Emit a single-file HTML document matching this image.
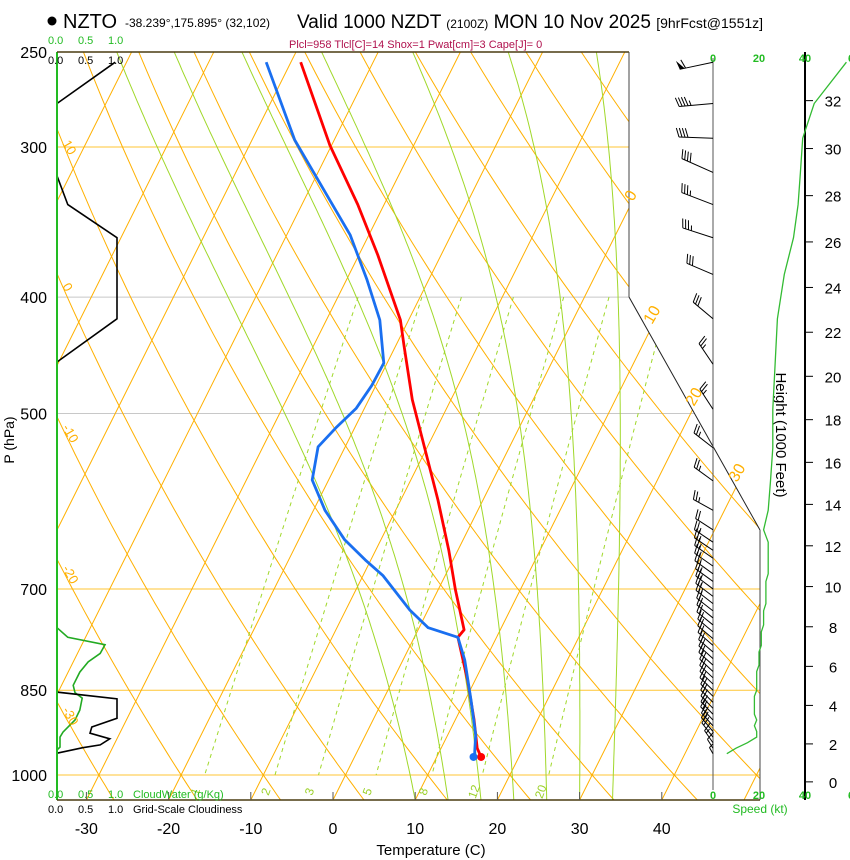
<!DOCTYPE html>
<html><head><meta charset="utf-8"><title>Skew-T NZTO</title>
<style>
html,body{margin:0;padding:0;background:#fff;}
svg{display:block;font-family:"Liberation Sans",Arial,sans-serif;}
</style></head>
<body>
<svg id="chart" width="850" height="860" viewBox="0 0 850 860" xmlns="http://www.w3.org/2000/svg">
<defs><clipPath id="plotclip"><polygon points="57,52 629,52 629,297 760,530 760,800 57,800"/></clipPath></defs>
<g>
<circle cx="52" cy="21" r="4.5" fill="#000"/>
<text x="63" y="28" font-size="20">NZTO</text>
<text x="125" y="27" font-size="12">-38.239°,175.895° (32,102)</text>
<text x="297" y="28" font-size="19">Valid 1000 NZDT <tspan font-size="12">(2100Z)</tspan> MON 10 Nov 2025 <tspan font-size="14">[9hrFcst@1551z]</tspan></text>
<text x="289" y="48" font-size="11" fill="#b0124e">Plcl=958 Tlcl[C]=14 Shox=1 Pwat[cm]=3 Cape[J]= 0</text>
</g>
<g id="grid" clip-path="url(#plotclip)"></g>
<g id="profiles"></g>
<g id="frame"></g>
<g id="labels"></g>
<g id="wind"></g>
</svg>
<script>
// ---- data ----
const pressureLevels=[250,300,400,500,700,850,1000];
const tempTicks=[-30,-20,-10,0,10,20,30,40];
const isotherms=[-150,-140,-130,-120,-110,-100,-90,-80,-70,-60,-50,-40,-30,-20,-10,0,10,20,30,40,50];
const dryAdiabats=[-30,-20,-10,0,10,20,30,40,50,60,70,80,90,100,110,120,130,140,150,160,170];
const moistStarts=[10,14,18,22,26,30,34];
const mixingRatios=[1,2,3,5,8,12,20];
const tempP=[255,299,335,369,418,439,487,536,590,650,701,757,768,834,900,950,966];
const tempC=[-48.8,-40.2,-33.2,-27.7,-21.0,-19.0,-14.7,-10.1,-5.5,-1.1,2.1,5.6,5.3,9.1,12.3,14.4,15.4];
const dewP=[255,296,332,355,387,418,454,474,495,514,533,568,602,637,662,682,729,754,768,802,866,926,953,966];
const dewC=[-53.0,-44.8,-36.9,-32.3,-27.5,-23.5,-20.4,-20.5,-21.0,-22.3,-23.3,-22.0,-18.6,-14.4,-10.7,-7.6,-2.2,1.1,5.3,7.5,10.7,13.4,14.2,14.6];
const cloudP=[255,276,317,335,357,417,453,853,864,897,912,923,933,944,949,959];
const cloudFrac=[0.97,0,0,0.18,1.0,1.0,0,0,1.0,1.0,0.58,0.55,0.88,0.72,0.43,0];
const cwP=[754,768,779,792,805,821,842,854,863,883,900,921,930,948,953];
const cwVal=[0,0.18,0.8,0.72,0.52,0.38,0.27,0.3,0.42,0.38,0.3,0.1,0.05,0.05,0];
const windP=[255,276,295,315,335,357,383,417,455,496,534,569,602,625,640,650,660,670,680,690,700,710,720,730,740,750,760,770,780,790,800,810,820,830,840,850,860,870,880,890,900,910,920,930,940,950,960];
const windSpd=[58,44,39,38,37,35,31,28,27,26,26,25,24,22,24,24,24,24,24,23,23,23,23,22,22,22,21,21,21,20,20,20,19,19,19,19,18,18,18,18,19,18,19,19,15,10,6];
const windDir=[258,265,272,294,291,288,293,310,326,327,308,306,299,303,304,304,305,305,306,306,307,307,308,308,309,309,310,310,311,311,312,312,313,313,314,314,315,315,316,316,317,318,320,322,325,328,330];
const heightTicks=[0,2,4,6,8,10,12,14,16,18,20,22,24,26,28,30,32];
const speedTicks=[0,20,40];

// ---- axes ----
const X0=333,KT=8.22,SK=0.5,YB=800;
function yP(p){return 775-521.6*Math.log(1000/p);}
function xT(T,p){return X0+KT*T+SK*(YB-yP(p));}
function cloudX(v){return 57+60*v;}
function spdX(s){return 713+2.3*s;}
function es(T){return 6.112*Math.exp(17.67*T/(T+243.5));}
const NS="http://www.w3.org/2000/svg";
function mk(tag,parent,attrs){const e=document.createElementNS(NS,tag);for(const k in attrs)e.setAttribute(k,attrs[k]);parent.appendChild(e);return e;}
function pts(arr){return arr.map(a=>a[0].toFixed(1)+","+a[1].toFixed(1)).join(" ");}
const grid=document.getElementById('grid'),prof=document.getElementById('profiles'),frame=document.getElementById('frame'),labels=document.getElementById('labels'),wind=document.getElementById('wind');
const PBOT=1000*Math.exp(25/521.6);

// pressure lines
pressureLevels.forEach(p=>{
  if(p===250)return;
  const gray=(p===400||p===500);
  const el=mk('line',grid,{x1:57,x2:760,y1:yP(p),y2:yP(p),stroke:gray?'#c8c8c8':'#ffc533','stroke-width':1});
  
  
});
// isotherms
isotherms.forEach(T=>{
  const el=mk('line',grid,{x1:xT(T,PBOT),y1:YB,x2:xT(T,250),y2:yP(250),stroke:'#ffb000','stroke-width':1});
  
  
});
// dry adiabats
dryAdiabats.forEach(th=>{
  const a=[];
  for(let p=250;p<=1050;p+=10){const T=(th+273.15)*Math.pow(p/1000,0.2857)-273.15;a.push([xT(T,p),yP(p)]);}
  const el=mk('polyline',grid,{points:pts(a),fill:'none',stroke:'#ffb000','stroke-width':1});
  
  
});
// moist adiabats
function moistRate(T,p){const Tk=T+273.15;const e=es(T);const rs=0.622*e/(p-e);const L=2.501e6,Rd=287,cp=1005;
  return (Rd*Tk+L*rs)/(cp+L*L*rs*0.622/(Rd*Tk*Tk));}
moistStarts.forEach(t0=>{
  const a=[];let T=t0,p=PBOT;a.push([xT(T,p),yP(p)]);
  while(p>250){const dl=-0.01;const p2=p*Math.exp(dl);T=T+moistRate(T,p)*dl;p=p2;a.push([xT(T,p),yP(p)]);}
  const el=mk('polyline',grid,{points:pts(a),fill:'none',stroke:'#a0d82a','stroke-width':1});
  
  
});
// mixing ratio lines
function tdw(w,p){const e=w*p/(622+w);const l=Math.log(e/6.112);return 243.5*l/(17.67-l);}
mixingRatios.forEach(w=>{
  const a=[];for(let p=400;p<=1000;p+=10)a.push([xT(tdw(w,p),p),yP(p)]);
  const el=mk('polyline',grid,{points:pts(a),fill:'none',stroke:'#a0d82a','stroke-width':1,'stroke-dasharray':'4,4'});
  
  
  const lx=xT(tdw(w,1035),1035),ly=yP(1035);
  const t=mk('text',labels,{x:lx,y:ly,'font-size':12,fill:'#9bd028','text-anchor':'middle',transform:'rotate(-70 '+lx+' '+ly+')'});
  t.textContent=String(w);
  
  
});
// dry adiabat labels on left
[10,0,-10,-20,-30].forEach(th=>{
  let lo=250,hi=1050;
  for(let i=0;i<40;i++){const m=(lo+hi)/2;const T=(th+273.15)*Math.pow(m/1000,0.2857)-273.15;if(xT(T,m)>66)hi=m;else lo=m;}
  const x=62,y=yP(lo)-8;
  const t=mk('text',labels,{x:x,y:y,'font-size':13,fill:'#ffb000',transform:'rotate(60 '+x+' '+y+')'});
  t.textContent=String(th);
  
  
});
// isotherm labels on right
[[0,633,202],[10,652,325],[20,694,407],[30,737,483]].forEach(d=>{
  const t=mk('text',labels,{x:d[1],y:d[2],'font-size':16,fill:'#ffb000',transform:'rotate(-60 '+d[1]+' '+d[2]+')'});
  t.textContent=String(d[0]);
  
  
});

// cloud panel
{
const g=mk('line',frame,{x1:57,x2:57,y1:52,y2:800,stroke:'#22bb22','stroke-width':2});


const cw=mk('polyline',prof,{points:pts(cwP.map((p,i)=>[cloudX(cwVal[i]),yP(p)])),fill:'none',stroke:'#22aa22','stroke-width':1.6});


const cl=mk('polyline',prof,{points:pts(cloudP.map((p,i)=>[cloudX(cloudFrac[i]),yP(p)])),fill:'none',stroke:'#000','stroke-width':1.6});


}
// temperature & dewpoint
{
const tl=mk('polyline',prof,{points:pts(tempP.map((p,i)=>[xT(tempC[i],p),yP(p)])),fill:'none',stroke:'#ff0000','stroke-width':2.8,'stroke-linejoin':'round'});


const dl=mk('polyline',prof,{points:pts(dewP.map((p,i)=>[xT(dewC[i],p),yP(p)])),fill:'none',stroke:'#1a6ff0','stroke-width':2.8,'stroke-linejoin':'round'});


const n=tempP.length-1,m=dewP.length-1;
const td=mk('circle',prof,{cx:xT(tempC[n],tempP[n]),cy:yP(tempP[n]),r:4,fill:'#ff0000'});


const dd=mk('circle',prof,{cx:xT(dewC[m],dewP[m])-1,cy:yP(dewP[m]),r:4,fill:'#1a6ff0'});


}
// frame
[[57,52,629,52,'#4a3c10',1.5],[629,52,629,297,'#444',1],[629,297,760,530,'#222',1],[760,530,760,800,'#444',1],[57,800,760,800,'#4a3c10',1.5]].forEach((l,i)=>{
  const e=mk('line',frame,{x1:l[0],y1:l[1],x2:l[2],y2:l[3],stroke:l[4],'stroke-width':l[5]});
  
  
});
// temperature ticks and labels
tempTicks.forEach(T=>{
  const x=X0+KT*T;
  const tk=mk('line',frame,{x1:x,x2:x,y1:800,y2:792,stroke:'#555','stroke-width':1});
  
  
  const t=mk('text',labels,{x:x,y:834,'font-size':16,'text-anchor':'middle'});
  t.textContent=String(T);
  
  
});
pressureLevels.forEach(p=>{
  const t=mk('text',labels,{x:47,y:yP(p)+6,'font-size':16,'text-anchor':'end'});
  t.textContent=String(p);
  
  
});
{
const t1=mk('text',labels,{x:431,y:855,'font-size':15,'text-anchor':'middle'});
t1.textContent='Temperature (C)';


const t2=mk('text',labels,{x:14,y:440,'font-size':14,'text-anchor':'middle',transform:'rotate(-90 14 440)'});
t2.textContent='P (hPa)';


const t3=mk('text',labels,{x:776,y:435,'font-size':15,'text-anchor':'middle',transform:'rotate(90 776 435)'});
t3.textContent='Height (1000 Feet)';


// cloud axis labels
[[44,'#22bb22','0.0','0.5','1.0',''],[64,'#000','0.0','0.5','1.0',''],[798,'#22bb22','0.0','0.5','1.0','CloudWater (g/Kg)'],[813,'#000','0.0','0.5','1.0','Grid-Scale Cloudiness']].forEach((r,i)=>{
  [0,0.5,1].forEach((v,j)=>{
    const t=mk('text',labels,{x:cloudX(v)-9,y:r[0],'font-size':11,fill:r[1]});
    t.textContent=r[2+j];
    
    
  });
  if(r[5]){const t=mk('text',labels,{x:133,y:r[0],'font-size':11,fill:r[1]});t.textContent=r[5];
    
    }
});
}
// wind panel
{
const ax=mk('line',wind,{x1:713,x2:713,y1:58,y2:790,stroke:'#555','stroke-width':1});


const hx=mk('line',wind,{x1:805,x2:805,y1:52,y2:800,stroke:'#000','stroke-width':2});


speedTicks.concat([60]).forEach(s=>{
  [62,799].forEach(y=>{
    const t=mk('text',wind,{x:spdX(s),y:y,'font-size':11,fill:'#22bb22','text-anchor':'middle','font-weight':'bold'});
    t.textContent=s===60?'6':String(s);
    
    
  });
});
const st=mk('text',wind,{x:760,y:813,'font-size':12,fill:'#22bb22','text-anchor':'middle'});
st.textContent='Speed (kt)';


function zToP(kft){const z=kft*304.8;return 1013.25*Math.pow(1-6.5e-3*z/288.15,5.256);}
heightTicks.forEach(h=>{
  const y=yP(zToP(h));
  const tk=mk('line',wind,{x1:805,x2:813,y1:y,y2:y,stroke:'#000','stroke-width':1});
  
  
  const t=mk('text',wind,{x:833,y:y+6,'font-size':15,'text-anchor':'middle'});
  t.textContent=String(h);
  
  
});
const sl=mk('polyline',wind,{points:pts(windP.map((p,i)=>[spdX(windSpd[i]),yP(p)])),fill:'none',stroke:'#33bb33','stroke-width':1.3});


windP.forEach((p,i)=>{
  const s=windSpd[i],d=windDir[i]*Math.PI/180;
  const bx=713,by=yP(p);
  const ux=Math.sin(d),uy=-Math.cos(d);
  const nx=-uy,ny=ux; // perpendicular (north side)
  const L=Math.min(34,2+0.85*s);
  const ex=bx+ux*L,ey=by+uy*L;
  const g=mk('g',wind,{});
  
  
  mk('line',g,{x1:bx,y1:by,x2:ex,y2:ey,stroke:'#000','stroke-width':1});
  let rem=Math.round(s/5)*5,pos=0;
  while(rem>=50){const px=ex-ux*pos,py=ey-uy*pos;
    mk('polygon',g,{points:pts([[px,py],[px+nx*9+ux*2,py+ny*9+uy*2],[px-ux*5,py-uy*5]]),fill:'#000'});pos+=6;rem-=50;}
  while(rem>=10){const px=ex-ux*pos,py=ey-uy*pos;
    mk('line',g,{x1:px,y1:py,x2:px+nx*9+ux*3,y2:py+ny*9+uy*3,stroke:'#000','stroke-width':1});pos+=3;rem-=10;}
  if(rem>=5){const px=ex-ux*pos,py=ey-uy*pos;
    mk('line',g,{x1:px,y1:py,x2:px+nx*5+ux*1.5,y2:py+ny*5+uy*1.5,stroke:'#000','stroke-width':1});}
});
}
</script>
</body></html>
